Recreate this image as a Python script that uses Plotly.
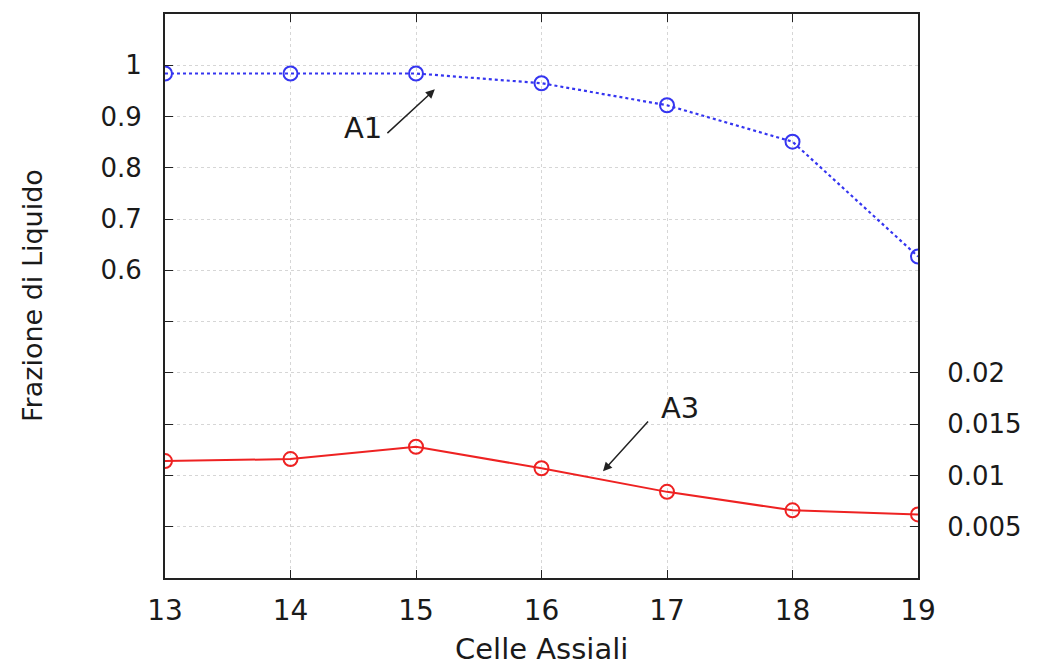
import plotly.graph_objects as go

celle = [13, 14, 15, 16, 17, 18, 19]
a1 = [0.984, 0.984, 0.984, 0.965, 0.922, 0.851, 0.627]
a3 = [0.0114, 0.0116, 0.0128, 0.0107, 0.0084, 0.0066, 0.0062]

left_ticks = [0.1, 0.2, 0.3, 0.4, 0.5, 0.6, 0.7, 0.8, 0.9, 1.0]
left_text = ["", "", "", "", "", "0.6", "0.7", "0.8", "0.9", "1"]
right_ticks = [0.005, 0.01, 0.015, 0.02]
right_text = ["0.005", "0.01", "0.015", "0.02"]

FONT = "DejaVu Sans, Liberation Sans, sans-serif"
INK = "#1a1a1a"

fig = go.Figure()

fig.add_trace(go.Scatter(
    x=celle, y=a1, mode="lines+markers", name="A1",
    line=dict(color="#3535f0", width=2.2, dash="dot"),
    marker=dict(symbol="circle-open", size=14, color="#3535f0", line=dict(width=2)),
))
fig.add_trace(go.Scatter(
    x=celle, y=a3, mode="lines+markers", name="A3", yaxis="y2",
    line=dict(color="#ee2222", width=2),
    marker=dict(symbol="circle-open", size=14, color="#ee2222", line=dict(width=2)),
))

# arrows (head at x,y ; tail at ax,ay)
fig.add_annotation(x=15.15, y=0.953, ax=14.76, ay=0.865, xref="x", yref="y",
                   axref="x", ayref="y", text="", showarrow=True,
                   arrowhead=2, arrowsize=1.2, arrowwidth=1.5, arrowcolor="#222")
fig.add_annotation(x=14.58, y=0.878, xref="x", yref="y", text="A1", showarrow=False,
                   font=dict(family=FONT, size=29, color=INK))
fig.add_annotation(x=16.49, y=0.0104, ax=16.86, ay=0.0154, xref="x", yref="y2",
                   axref="x", ayref="y2", text="", showarrow=True,
                   arrowhead=2, arrowsize=1.2, arrowwidth=1.5, arrowcolor="#222")
fig.add_annotation(x=17.10, y=0.0166, xref="x", yref="y2", text="A3", showarrow=False,
                   font=dict(family=FONT, size=29, color=INK))

# axis titles as annotations for exact placement
fig.add_annotation(x=0, y=0.5, xref="paper", yref="paper", xshift=-133,
                   xanchor="center", yanchor="middle",
                   text="Frazione di Liquido", textangle=-90, showarrow=False,
                   font=dict(family=FONT, size=27, color=INK))
fig.add_annotation(x=0.5, y=0, xref="paper", yref="paper", yshift=-71,
                   xanchor="center", yanchor="middle",
                   text="Celle Assiali", showarrow=False,
                   font=dict(family=FONT, size=29, color=INK))

# page body adds an 8px offset, so the figure is 8px smaller on each side
fig.update_layout(
    width=1030, height=660,
    margin=dict(l=157, r=120, t=6, b=90),
    paper_bgcolor="white", plot_bgcolor="white",
    showlegend=False,
    font=dict(family=FONT, color=INK),
    xaxis=dict(
        range=[13, 19], tickvals=celle, automargin=False,
        tickfont=dict(size=28),
        showline=True, linecolor="#222", linewidth=2, mirror="ticks",
        ticks="inside", ticklen=8, tickcolor="#222",
        showgrid=True, gridcolor="#d6d6d6", griddash="dot", gridwidth=1,
        zeroline=False, ticklabelstandoff=6,
    ),
    yaxis=dict(
        range=[0, 1.1], tickvals=left_ticks, ticktext=left_text, automargin=False,
        tickfont=dict(size=26),
        showline=True, linecolor="#222", linewidth=2, mirror=True,
        ticks="inside", ticklen=8, tickcolor="#222",
        showgrid=True, gridcolor="#d6d6d6", griddash="dot", gridwidth=1,
        zeroline=False, ticklabelstandoff=16,
    ),
    yaxis2=dict(
        range=[0, 0.055], tickvals=right_ticks, ticktext=right_text,
        overlaying="y", side="right", automargin=False,
        tickfont=dict(size=26),
        showline=True, linecolor="#222", linewidth=2,
        ticks="inside", ticklen=8, tickcolor="#222",
        showgrid=False, zeroline=False, ticklabelstandoff=22,
    ),
)

fig.write_html("out.html")
